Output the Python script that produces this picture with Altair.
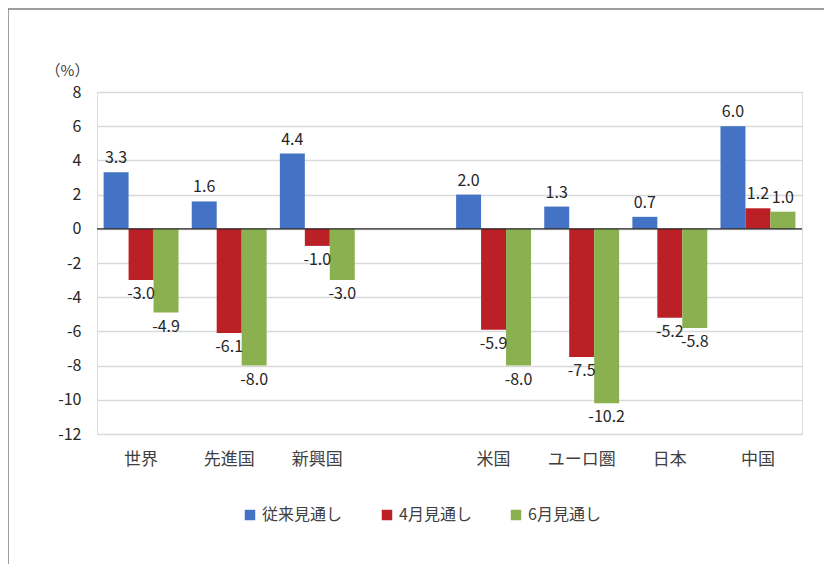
import altair as alt
import pandas as pd

categories = ["世界", "先進国", "新興国", " ", "米国", "ユーロ圏", "日本", "中国"]
bar_categories = ["世界", "先進国", "新興国", "米国", "ユーロ圏", "日本", "中国"]
series = ["従来見通し", "4月見通し", "6月見通し"]
prev_values = [3.3, 1.6, 4.4, 2.0, 1.3, 0.7, 6.0]
apr_values = [-3.0, -6.1, -1.0, -5.9, -7.5, -5.2, 1.2]
jun_values = [-4.9, -8.0, -3.0, -8.0, -10.2, -5.8, 1.0]
y_ticks = [-12, -10, -8, -6, -4, -2, 0, 2, 4, 6, 8]
colors = ["#4472C4", "#BA2026", "#8BB04F"]

rows = []
for vals, s in zip([prev_values, apr_values, jun_values], series):
    for c, v in zip(bar_categories, vals):
        rows.append({"cat": c, "series": s, "value": v, "label": f"{v:.1f}"})
df = pd.DataFrame(rows)

FONT = "Noto Sans CJK JP"

x_axis = alt.Axis(title=None, labelAngle=0, domain=False, ticks=False, labelPadding=17,
                  labelFont=FONT, labelFontSize=17, labelColor="#404040")
x_scale = alt.Scale(domain=categories, paddingInner=0.15, paddingOuter=0.075)
y_scale = alt.Scale(domain=[-12, 8], nice=False)
y_axis = alt.Axis(values=y_ticks, title="（%）", titleAngle=0, titleX=-30, titleY=-14,
                  titleFont=FONT, titleFontSize=15, titleFontWeight="normal", titleColor="#404040",
                  labelFont=FONT, labelFontSize=16, labelColor="#262626", labelPadding=16,
                  labelOverlap=False, labelExpr="'' + datum.value",
                  domain=False, ticks=False, grid=True, gridColor="#D9D9D9", gridWidth=1.3)
xoff = alt.XOffset("series:N", sort=series, scale=alt.Scale(domain=series, paddingInner=0, paddingOuter=0))

X = alt.X("cat:N", sort=categories, scale=x_scale, axis=x_axis)
Y = alt.Y("value:Q", scale=y_scale, axis=y_axis)

base = alt.Chart(df)

bars = base.mark_bar().encode(
    x=X,
    xOffset=xoff,
    y=Y,
    color=alt.Color("series:N", sort=series, scale=alt.Scale(domain=series, range=colors),
                    legend=alt.Legend(title=None, orient="none", legendX=145, legendY=415, direction="horizontal",
                                      symbolType="square", symbolSize=110, symbolStrokeWidth=0,
                                      columnPadding=36, labelFont=FONT, labelFontSize=16, labelColor="#404040",
                                      labelOffset=4)),
)

pos_text = base.transform_filter("datum.value >= 0").mark_text(
    baseline="bottom", dy=-6, font=FONT, fontSize=16, color="#262626"
).encode(x=X, xOffset=xoff, y=Y, text="label:N")

neg_text = base.transform_filter("datum.value < 0").mark_text(
    baseline="top", dy=6, font=FONT, fontSize=16, color="#262626"
).encode(x=X, xOffset=xoff, y=Y, text="label:N")

zero = alt.Chart(pd.DataFrame({"value": [0]})).mark_rule(color="#262626", strokeWidth=1.3).encode(
    y=Y
)

frame = alt.Chart(pd.DataFrame({"a": [0]})).mark_rect(fill=None, stroke="#7F7F7F", strokeWidth=1.5).encode(
    x=alt.value(-89), x2=alt.value(733), y=alt.value(-83), y2=alt.value(600)
)

chart = alt.layer(bars, zero, pos_text, neg_text, frame).properties(
    width=705, height=342,
    autosize=alt.AutoSizeParams(type="none"),
    padding={"left": 89, "top": 84, "right": 22, "bottom": 130},
).configure_view(stroke=None).configure(background="white")

chart.save("out.html", embed_options={"renderer": "svg", "actions": False})
